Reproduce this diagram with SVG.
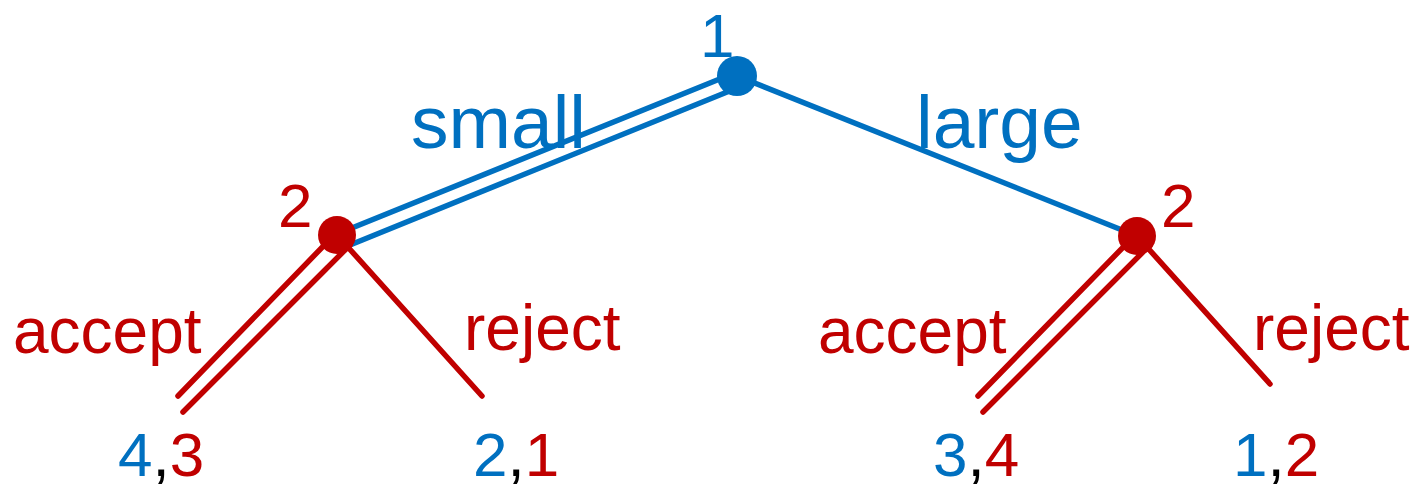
<svg xmlns="http://www.w3.org/2000/svg" width="1415" height="484" viewBox="0 0 1415 484">
  <style>
    .edge { stroke-width: 5.5; stroke-linecap: round; fill: none; }
    .blue { stroke: #0070C0; }
    .red { stroke: #C00000; }
    text { font-family: "Liberation Sans", Arial, sans-serif; }
    .tb { fill: #0070C0; }
    .tr { fill: #C00000; }
    .tk { fill: #000000; }
    .big { font-size: 75px; }
    .mid { font-size: 64px; }
    .lbl { font-size: 62px; }
  </style>

  <!-- branches of the game tree -->
  <g id="connectors">
    <!-- player 1: small (double line = chosen), large -->
    <line class="edge blue" x1="737" y1="72" x2="337" y2="234"/>
    <line class="edge blue" x1="737" y1="88" x2="350" y2="245"/>
    <line class="edge blue" x1="737" y1="76" x2="1137" y2="236"/>
    <!-- player 2 after small -->
    <line class="edge red" x1="337" y1="232" x2="178" y2="396"/>
    <line class="edge red" x1="350" y1="245" x2="183" y2="412"/>
    <line class="edge red" x1="337" y1="235" x2="482" y2="396"/>
    <!-- player 2 after large -->
    <line class="edge red" x1="1137" y1="233" x2="978" y2="396"/>
    <line class="edge red" x1="1150" y1="245" x2="983" y2="412"/>
    <line class="edge red" x1="1137" y1="236" x2="1270" y2="384"/>
  </g>

  <g id="edge-labels">
    <text class="tb big" x="411" y="148">small</text>
    <text class="tb big" x="916" y="148">large</text>
    <text class="tr mid" x="13" y="353">accept</text>
    <text class="tr mid" x="464" y="350">reject</text>
    <text class="tr mid" x="818" y="353">accept</text>
    <text class="tr mid" x="1253" y="350">reject</text>
  </g>

  <g id="root">
    <circle cx="737" cy="76" r="20" fill="#0070C0"/>
    <text class="tb lbl" x="700" y="57">1</text>
  </g>

  <g id="p2-left">
    <circle cx="337" cy="235" r="19" fill="#C00000"/>
    <text class="tr lbl" x="278" y="227">2</text>
  </g>

  <g id="p2-right">
    <circle cx="1137" cy="236" r="19" fill="#C00000"/>
    <text class="tr lbl" x="1161" y="227">2</text>
  </g>

  <!-- payoffs: player 1 in blue, player 2 in red -->
  <g id="leaf-small-accept">
    <text class="lbl" x="118" y="476"><tspan class="tb">4</tspan><tspan class="tk">,</tspan><tspan class="tr">3</tspan></text>
  </g>
  <g id="leaf-small-reject">
    <text class="lbl" x="473" y="476"><tspan class="tb">2</tspan><tspan class="tk">,</tspan><tspan class="tr">1</tspan></text>
  </g>
  <g id="leaf-large-accept">
    <text class="lbl" x="933" y="476"><tspan class="tb">3</tspan><tspan class="tk">,</tspan><tspan class="tr">4</tspan></text>
  </g>
  <g id="leaf-large-reject">
    <text class="lbl" x="1233" y="476"><tspan class="tb">1</tspan><tspan class="tk">,</tspan><tspan class="tr">2</tspan></text>
  </g>
</svg>
